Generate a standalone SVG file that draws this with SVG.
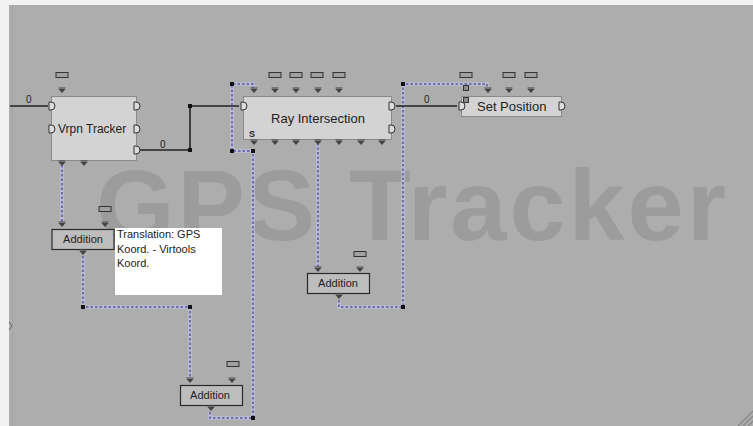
<svg xmlns="http://www.w3.org/2000/svg" xmlns:xlink="http://www.w3.org/1999/xlink" width="753" height="426" viewBox="0 0 753 426">
<defs>
<style>
.bb{fill:#d3d3d3;stroke:#8a8a8a;stroke-width:1}
.add{fill:#bdbdbd;stroke:#2a2a2a;stroke-width:1.2}
.lbl{font-family:"Liberation Sans",Arial,sans-serif;fill:#222}
.link{fill:none;stroke:#222;stroke-width:1.6}
.plink{fill:none;stroke:#5656a6;stroke-width:1.5;stroke-dasharray:2.5 2}
.halo{fill:none;stroke:#bdbdd2;stroke-width:3.5}
.sq{fill:#111}
.pbox{fill:#a0a0a0;stroke:#333;stroke-width:1}
</style>
<g id="tri"><path d="M-3.5,-2 h7" stroke="#444" stroke-width="1"/><path d="M-3.5,-1 h7 l-3.5,4 z" fill="#444"/></g>
<path id="port" d="M-3,-4 h2 a4,4 0 0 1 0,8 h-2 z" fill="#dcdcdc" stroke="#333" stroke-width="1"/>
<rect id="par" x="-6" y="-2.5" width="12" height="5" class="pbox"/>
</defs>
<rect width="753" height="426" fill="#f2f2f2"/>
<rect x="9" y="5" width="744" height="421" fill="#adadad"/>
<line x1="12.5" y1="5" x2="12.5" y2="426" stroke="#a2a2a2" stroke-width="1"/>
<text x="96" y="240" font-family="Liberation Sans,Arial,sans-serif" font-weight="bold" font-size="101" fill="#9c9c9c" textLength="630" lengthAdjust="spacing">GPS Tracker</text>
<g id="connectors">
<g class="halo">
<path d="M62,165 V222"/><path d="M83,256 V307 H190 V378"/>
<path d="M210,412 V418 H253 V151 H232 V84 H253 V88"/>
<path d="M318,143 V267"/><path d="M339,300 V307 H403 V84 H487 V88"/>
</g>
<path class="plink" d="M62,165 V222"/>
<path class="plink" d="M83,256 V307 H190 V378"/>
<path class="plink" d="M210,412 V418 H253 V151 H232 V84 H253 V88"/>
<path class="plink" d="M318,143 V267"/>
<path class="plink" d="M339,300 V307 H403 V84 H487 V88"/>
<rect class="sq" x="81" y="305" width="4" height="4"/>
<rect class="sq" x="188" y="305" width="4" height="4"/>
<rect class="sq" x="251" y="416" width="4" height="4"/>
<rect class="sq" x="251" y="149" width="4" height="4"/>
<rect class="sq" x="230" y="149" width="4" height="4"/>
<rect class="sq" x="230" y="82" width="4" height="4"/>
<rect class="sq" x="401" y="82" width="4" height="4"/>
<rect class="sq" x="401" y="305" width="4" height="4"/>
<path class="link" d="M10,106 H48"/>
<text x="26" y="103" class="lbl" font-size="10">0</text>
<path class="link" d="M140,150 H190 V106 H239"/>
<rect class="sq" x="188" y="148" width="4" height="4"/>
<rect class="sq" x="188" y="104" width="4" height="4"/>
<text x="160" y="148" class="lbl" font-size="10">0</text>
<path class="link" d="M396,106 H457"/>
<text x="424" y="103" class="lbl" font-size="10">0</text>
</g>
<g id="vrpn-tracker">
<rect x="51.5" y="96.5" width="85" height="64" class="bb"/>
<text x="58" y="133" class="lbl" font-size="12">Vrpn Tracker</text>
<use xlink:href="#par" x="62" y="75"/>
<use xlink:href="#tri" x="62" y="90"/>
<use xlink:href="#tri" x="62" y="163"/><use xlink:href="#tri" x="84" y="163"/>
<use xlink:href="#port" x="52" y="106"/><use xlink:href="#port" x="52" y="129"/>
<use xlink:href="#port" x="137" y="106"/><use xlink:href="#port" x="137" y="129"/><use xlink:href="#port" x="137" y="150"/>
</g>
<g id="ray-intersection">
<rect x="243.5" y="96.5" width="148" height="43" class="bb"/>
<text x="318" y="123" class="lbl" font-size="13" text-anchor="middle">Ray Intersection</text>
<text x="249" y="137" class="lbl" font-size="9" font-weight="bold">S</text>
<use xlink:href="#par" x="275" y="75"/><use xlink:href="#par" x="296" y="75"/><use xlink:href="#par" x="317" y="75"/><use xlink:href="#par" x="339" y="75"/>
<use xlink:href="#tri" x="254" y="90"/><use xlink:href="#tri" x="275" y="90"/><use xlink:href="#tri" x="296" y="90"/><use xlink:href="#tri" x="318" y="90"/><use xlink:href="#tri" x="339" y="90"/>
<use xlink:href="#tri" x="254" y="142"/><use xlink:href="#tri" x="275" y="142"/><use xlink:href="#tri" x="296" y="142"/><use xlink:href="#tri" x="318" y="142"/><use xlink:href="#tri" x="339" y="142"/><use xlink:href="#tri" x="361" y="142"/><use xlink:href="#tri" x="382" y="142"/>
<use xlink:href="#port" x="244" y="106"/>
<use xlink:href="#port" x="392" y="106"/><use xlink:href="#port" x="392" y="129"/>
</g>
<g id="set-position">
<rect x="461.5" y="96.5" width="100" height="20" class="bb"/>
<text x="477" y="111" class="lbl" font-size="13">Set Position</text>
<use xlink:href="#par" x="466" y="75"/><use xlink:href="#par" x="509" y="75"/><use xlink:href="#par" x="531" y="75"/>
<use xlink:href="#tri" x="488" y="90"/><use xlink:href="#tri" x="509" y="90"/><use xlink:href="#tri" x="531" y="90"/>
<rect x="463.5" y="85.5" width="5" height="5" fill="#8c8c8c" stroke="#333"/>
<rect x="463.5" y="97.5" width="5" height="5" fill="#8c8c8c" stroke="#333"/>
<use xlink:href="#port" x="462" y="106"/>
<use xlink:href="#port" x="562" y="106"/>
</g>
<g id="addition-1">
<rect x="52" y="229.5" width="62" height="20" class="add"/>
<text x="83" y="243" class="lbl" font-size="11" text-anchor="middle">Addition</text>
<use xlink:href="#par" x="105" y="209"/>
<use xlink:href="#tri" x="62" y="224"/><use xlink:href="#tri" x="105" y="224"/>
<use xlink:href="#tri" x="83" y="252"/>
</g>
<g id="comment">
<rect x="115" y="228" width="107" height="67" fill="#ffffff"/>
<text x="117" y="238" class="lbl" font-size="11">Translation: GPS</text>
<text x="117" y="253" class="lbl" font-size="11">Koord. - Virtools</text>
<text x="117" y="267" class="lbl" font-size="11">Koord.</text>
</g>
<g id="addition-2">
<rect x="307.5" y="273.5" width="62" height="20" class="add"/>
<text x="338" y="287" class="lbl" font-size="11" text-anchor="middle">Addition</text>
<use xlink:href="#par" x="360" y="254"/>
<use xlink:href="#tri" x="318" y="269"/><use xlink:href="#tri" x="360" y="269"/>
<use xlink:href="#tri" x="339" y="296"/>
</g>
<g id="addition-3">
<rect x="180.5" y="385.5" width="62" height="20" class="add"/>
<text x="210" y="399" class="lbl" font-size="11" text-anchor="middle">Addition</text>
<use xlink:href="#par" x="233" y="364"/>
<use xlink:href="#tri" x="190" y="380"/><use xlink:href="#tri" x="232" y="380"/>
<use xlink:href="#tri" x="211" y="408"/>
</g>
<path d="M9,322 l3,4 l-3,4" fill="none" stroke="#666" stroke-width="1"/>
<g stroke="#8a8a8a" stroke-width="1.5">
<line x1="738" y1="426" x2="753" y2="411"/><line x1="743" y1="426" x2="753" y2="416"/><line x1="748" y1="426" x2="753" y2="421"/>
</g>
</svg>
